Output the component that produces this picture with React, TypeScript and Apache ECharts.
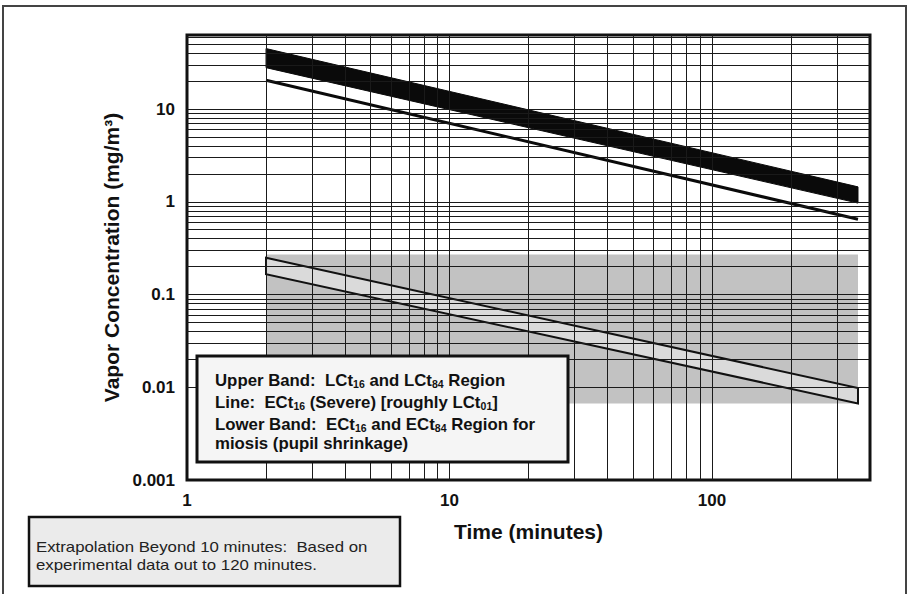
import React, { useEffect, useRef } from 'react';
import * as echarts from 'echarts';

// ---- data ----
const times = [2, 360]; // minutes
const upperBandTop = [45, 1.45];
const upperBandBottom = [28, 0.97];
const severeLine = [20.5, 0.65];
const lowerBandTop = [0.25, 0.0098];
const lowerBandBottom = [0.166, 0.0067];
const stippleTop = 0.27;
const stippleBottom = 0.0067;

const xMin = 1;
const xMax = 400;
const yMin = 0.001;
const yMax = 63;
const xTickLabels = ['1', '10', '100'];
const yTickLabels = ['0.001', '0.01', '0.1', '1', '10'];
const xGridLines = [2, 3, 4, 5, 6, 7, 8, 9, 10, 20, 30, 40, 50, 60, 70, 80, 90, 100, 200, 300];
const yGridLines = [
  0.002, 0.003, 0.004, 0.005, 0.006, 0.007, 0.008, 0.009, 0.01,
  0.02, 0.03, 0.04, 0.05, 0.06, 0.07, 0.08, 0.09, 0.1,
  0.2, 0.3, 0.4, 0.5, 0.6, 0.7, 0.8, 0.9, 1,
  2, 3, 4, 5, 6, 7, 8, 9, 10,
  20, 30, 40, 50, 60,
];

const FONT = '"Liberation Sans", Arial, Helvetica, sans-serif';

function pickLabel(list: string[], v: number): string {
  const hit = list.find((l) => Math.abs(Math.log10(parseFloat(l)) - Math.log10(v)) < 1e-6);
  return hit ?? '';
}

function bandRenderer(top: number[], bottom: number[], style: any) {
  return (params: any, api: any) => {
    if (params.dataIndex !== 0) return null;
    const upper = times.map((t, i) => api.coord([t, top[i]]));
    const lower = times.map((t, i) => api.coord([t, bottom[i]])).reverse();
    return {
      type: 'polygon',
      shape: { points: [...upper, ...lower] },
      style,
    };
  };
}

export default function App() {
  const ref = useRef<HTMLDivElement>(null);

  useEffect(() => {
    if (!ref.current) return;
    const chart = echarts.init(ref.current, null, { renderer: 'svg' });

    const b = { fontFamily: FONT, fontSize: 16, fontWeight: 'bold', fill: '#111', lineHeight: 19, verticalAlign: 'middle' };
    const s = { fontFamily: FONT, fontSize: 10, fontWeight: 'bold', fill: '#111', lineHeight: 10, verticalAlign: 'bottom' };
    const legendLine = (y: number, text: string) => ({
      type: 'text',
      x: 215,
      y,
      z: 101,
      scaleX: 1.05,
      style: { text, rich: { b, s }, textVerticalAlign: 'middle' },
    });
    const noteLine = (y: number, text: string) => ({
      type: 'text',
      z: 101,
      x: 36,
      y,
      scaleX: 1.2,
      style: { text, font: `14px ${FONT}`, fill: '#222', textVerticalAlign: 'middle' },
    });

    chart.setOption({
      animation: false,
      backgroundColor: '#ffffff',
      grid: {
        left: 187,
        right: 39,
        top: 35,
        bottom: 114,
        containLabel: false,
        outerBoundsMode: 'none',
        show: true,
        borderColor: '#111',
        borderWidth: 3,
        backgroundColor: 'transparent',
      },
      xAxis: {
        type: 'log',
        logBase: 10,
        min: xMin,
        max: xMax,
        axisLine: { show: false },
        axisTick: { show: false },
        splitLine: { show: false },
        axisLabel: {
          formatter: (v: number) => pickLabel(xTickLabels, v),
          fontFamily: FONT,
          fontSize: 17,
          fontWeight: 'bold',
          color: '#111',
          margin: 12,
        },
        name: 'Time (minutes)',
        nameLocation: 'middle',
        nameGap: 41,
        nameTextStyle: { fontFamily: FONT, fontSize: 21, fontWeight: 'bold', color: '#111' },
      },
      yAxis: {
        type: 'log',
        logBase: 10,
        min: yMin,
        max: yMax,
        axisLine: { show: false },
        axisTick: { show: false },
        splitLine: { show: false },
        axisLabel: {
          formatter: (v: number) => pickLabel(yTickLabels, v),
          fontFamily: FONT,
          fontSize: 17,
          fontWeight: 'bold',
          color: '#111',
          margin: 12,
        },
        name: 'Vapor Concentration (mg/m³)',
        nameLocation: 'middle',
        nameGap: 64,
        nameTextStyle: { fontFamily: FONT, fontSize: 21, fontWeight: 'bold', color: '#111' },
      },
      series: [
        {
          name: 'grid',
          type: 'line',
          data: [],
          z: 1,
          silent: true,
          markLine: {
            silent: true,
            symbol: ['none', 'none'],
            label: { show: false },
            lineStyle: { color: '#1a1a1a', width: 1, type: 'solid' },
            emphasis: { disabled: true },
            data: [
              ...xGridLines.map((v) => ({ xAxis: v })),
              ...yGridLines.map((v) => ({ yAxis: v })),
            ],
          },
        },
        {
          name: 'stipple',
          type: 'custom',
          z: 2,
          silent: true,
          data: [[times[0], stippleTop]],
          renderItem: (params: any, api: any) => {
            const p1 = api.coord([times[0], stippleTop]);
            const p2 = api.coord([times[times.length - 1], stippleBottom]);
            return {
              type: 'rect',
              shape: { x: p1[0], y: p1[1], width: p2[0] - p1[0], height: p2[1] - p1[1] },
              style: { fill: '#c2c2c2' },
            };
          },
        },
        {
          name: 'Lower Band',
          type: 'custom',
          z: 3,
          silent: true,
          data: times.map((t, i) => [t, lowerBandTop[i]]),
          renderItem: bandRenderer(lowerBandTop, lowerBandBottom, {
            fill: '#dadada',
            stroke: '#111',
            lineWidth: 2,
          }),
        },
        {
          name: 'Upper Band',
          type: 'custom',
          z: 4,
          silent: true,
          data: times.map((t, i) => [t, upperBandTop[i]]),
          renderItem: bandRenderer(upperBandTop, upperBandBottom, {
            fill: '#0a0a0a',
            stroke: '#0a0a0a',
            lineWidth: 1,
          }),
        },
        {
          name: 'Line',
          type: 'line',
          z: 4,
          silent: true,
          showSymbol: false,
          data: times.map((t, i) => [t, severeLine[i]]),
          lineStyle: { color: '#0a0a0a', width: 3 },
        },
      ],
      graphic: [
        {
          type: 'rect',
          z: 0,
          silent: true,
          shape: { x: 3, y: 6, width: 903, height: 620 },
          style: { fill: 'none', stroke: '#444', lineWidth: 2 },
        },
        {
          type: 'rect',
          z: 100,
          silent: true,
          shape: { x: 197, y: 356, width: 371, height: 106 },
          style: { fill: '#f5f5f5', stroke: '#111', lineWidth: 3 },
        },
        legendLine(380, '{b|Upper Band:  LCt}{s|16}{b| and LCt}{s|84}{b| Region}'),
        legendLine(402, '{b|Line:  ECt}{s|16}{b| (Severe) [roughly LCt}{s|01}{b|]}'),
        legendLine(424, '{b|Lower Band:  ECt}{s|16}{b| and ECt}{s|84}{b| Region for}'),
        legendLine(443, '{b|miosis (pupil shrinkage)}'),
        {
          type: 'rect',
          z: 100,
          silent: true,
          shape: { x: 29, y: 517, width: 371, height: 69 },
          style: { fill: '#ebebeb', stroke: '#111', lineWidth: 2.5 },
        },
        noteLine(547, 'Extrapolation Beyond 10 minutes:  Based on'),
        noteLine(565, 'experimental data out to 120 minutes.'),
      ],
    });

    return () => chart.dispose();
  }, []);

  return (
    <div
      ref={ref}
      style={{ position: 'fixed', left: 0, top: 0, width: 909, height: 594, background: '#fff' }}
    />
  );
}
